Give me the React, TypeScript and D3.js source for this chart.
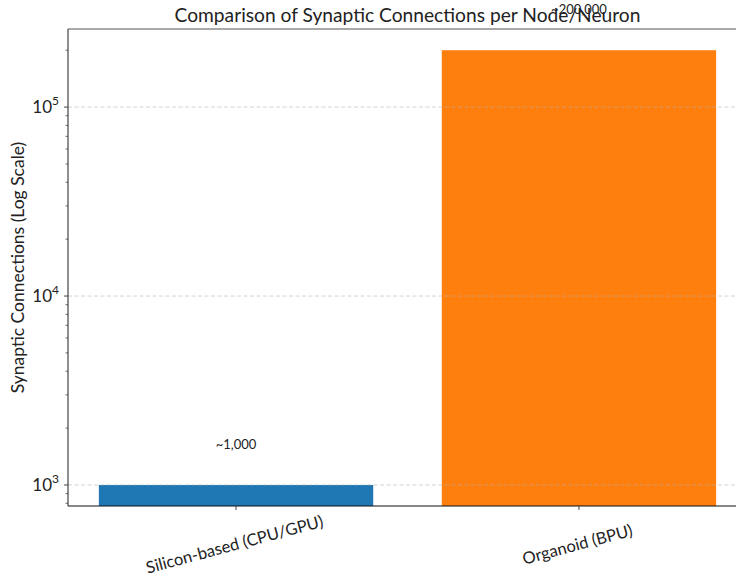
import React from "react";
import * as d3 from "d3";

// Bar chart data
const categories = ["Silicon-based (CPU/GPU)", "Organoid (BPU)"];
const connections = [1000, 200000];
const valueLabels = ["~1,000", "~200,000"];
const barColors = ["#1f77b4", "#ff7f0e"];
const majorTicks = [1e3, 1e4, 1e5];

const W = 736;
const H = 579;
const FONT = "Lato, 'Open Sans', sans-serif";

const margin = { left: 68, top: 29, right: 747, bottom: 506 };

export default function App() {
  const x = d3
    .scaleLinear()
    .domain([-0.49, 1.49])
    .range([margin.left, margin.right]);
  const y = d3
    .scaleLog()
    .domain([774, 2.59e5])
    .range([margin.bottom, margin.top]);

  const barW = 0.8;

  // minor ticks 2..9 × 10^k within the domain
  const minorTicks: number[] = [];
  for (let k = 2; k <= 5; k++) {
    for (let m = 2; m <= 9; m++) {
      const v = m * Math.pow(10, k);
      if (v >= y.domain()[0] && v <= y.domain()[1]) minorTicks.push(v);
    }
  }

  return (
    <svg
      width={W}
      height={H}
      style={{ position: "absolute", left: 0, top: 0, background: "#fff" }}
      fontFamily={FONT}
    >
      <rect width={W} height={H} fill="#fff" />
      {/* bars */}
      {connections.map((v, i) => (
        <rect
          key={categories[i]}
          x={x(i - barW / 2)}
          width={x(i + barW / 2) - x(i - barW / 2)}
          y={y(v)}
          height={margin.bottom - y(v)}
          fill={barColors[i]}
        />
      ))}
      {/* grid over the bars */}
      {majorTicks.map((t) => (
        <line
          key={t}
          x1={margin.left}
          x2={margin.right}
          y1={y(t)}
          y2={y(t)}
          stroke="#b0b0b0"
          strokeOpacity={0.7}
          strokeDasharray="4,2.5"
          strokeWidth={0.8}
        />
      ))}
      {/* value labels */}
      {connections.map((v, i) => (
        <text
          key={valueLabels[i]}
          x={x(i)}
          y={y(v * 1.5) - 3}
          textAnchor="middle"
          fontSize={13}
          fill="#222"
        >
          {valueLabels[i]}
        </text>
      ))}
      {/* spines */}
      <line x1={margin.left} x2={margin.right} y1={margin.top} y2={margin.top} stroke="#555" strokeWidth={1.2} />
      <line x1={margin.left} x2={margin.left} y1={margin.top} y2={margin.bottom} stroke="#444" strokeWidth={1.2} />
      <line x1={margin.left} x2={margin.right} y1={margin.bottom} y2={margin.bottom} stroke="#111" strokeWidth={1.2} />
      {/* y ticks */}
      {minorTicks.map((t) => (
        <line key={"m" + t} x1={margin.left - 2.5} x2={margin.left} y1={y(t)} y2={y(t)} stroke="#333" strokeWidth={0.7} />
      ))}
      {majorTicks.map((t) => (
        <g key={"M" + t}>
          <line x1={margin.left - 4} x2={margin.left} y1={y(t)} y2={y(t)} stroke="#333" strokeWidth={0.9} />
          <text x={margin.left - 9} y={y(t) + 6} textAnchor="end" fontSize={17} fill="#222">
            10
            <tspan dy={-8} fontSize={12}>
              {Math.round(Math.log10(t))}
            </tspan>
          </text>
        </g>
      ))}
      {/* x ticks and labels */}
      {categories.map((c, i) => (
        <g key={c}>
          <line x1={x(i)} x2={x(i)} y1={margin.bottom} y2={margin.bottom + 4} stroke="#333" strokeWidth={0.9} />
          <text
            transform={`translate(${x(i)},${margin.bottom + 44}) rotate(-15)`}
            textAnchor="middle"
            fontSize={16.5}
            fill="#222"
          >
            {c}
          </text>
        </g>
      ))}
      {/* axis label */}
      <text
        transform={`translate(24,${(margin.top + margin.bottom) / 2}) rotate(-90)`}
        textAnchor="middle"
        fontSize={17.5}
        fill="#222"
      >
        Synaptic Connections (Log Scale)
      </text>
      {/* title */}
      <text x={(margin.left + margin.right) / 2} y={22} textAnchor="middle" fontSize={19.2} fill="#222">
        Comparison of Synaptic Connections per Node/Neuron
      </text>
    </svg>
  );
}
